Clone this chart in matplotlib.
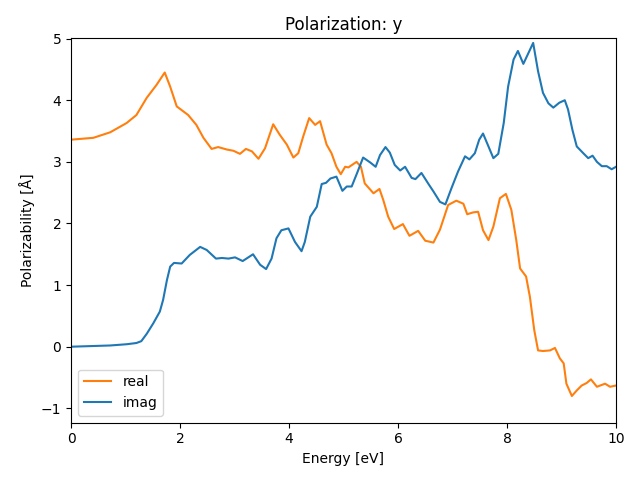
import matplotlib
matplotlib.use("Agg")
import matplotlib.pyplot as plt

energy_real = [0.0, 0.41, 0.72, 1.02, 1.2, 1.39, 1.57, 1.72, 1.82, 1.94, 2.06, 2.15, 2.3, 2.43,
               2.58, 2.70, 2.86, 2.98, 3.10, 3.21, 3.32, 3.44, 3.56, 3.71, 3.83, 3.96, 4.08,
               4.17, 4.26, 4.37, 4.48, 4.57, 4.69, 4.78, 4.87, 4.95, 5.03, 5.09, 5.24, 5.32,
               5.39, 5.55, 5.66, 5.73, 5.82, 5.93, 6.09, 6.21, 6.37, 6.50, 6.65, 6.77, 6.92,
               7.07, 7.20, 7.27, 7.38, 7.47, 7.56, 7.66, 7.75, 7.87, 7.98, 8.08, 8.17, 8.24,
               8.35, 8.42, 8.50, 8.57, 8.66, 8.79, 8.88, 8.97, 9.04, 9.09, 9.19, 9.28, 9.37,
               9.46, 9.54, 9.65, 9.80, 9.89, 10.0]
real = [3.36, 3.39, 3.48, 3.63, 3.76, 4.04, 4.25, 4.45, 4.22, 3.90, 3.82, 3.76, 3.60, 3.39,
        3.21, 3.24, 3.20, 3.18, 3.13, 3.21, 3.17, 3.05, 3.22, 3.61, 3.44, 3.28, 3.07,
        3.14, 3.41, 3.71, 3.60, 3.66, 3.28, 3.14, 2.92, 2.80, 2.92, 2.91, 3.00, 2.92,
        2.65, 2.49, 2.56, 2.38, 2.11, 1.91, 1.99, 1.80, 1.88, 1.72, 1.69, 1.90, 2.30,
        2.37, 2.32, 2.15, 2.18, 2.19, 1.89, 1.73, 1.95, 2.41, 2.48, 2.22, 1.73, 1.27,
        1.14, 0.81, 0.27, -0.06, -0.07, -0.06, -0.02, -0.19, -0.27, -0.60, -0.80, -0.71, -0.63,
        -0.59, -0.53, -0.65, -0.60, -0.65, -0.63]

energy_imag = [0.0, 0.72, 1.02, 1.2, 1.29, 1.39, 1.51, 1.63, 1.69, 1.76, 1.82, 1.89, 2.03,
               2.18, 2.37, 2.49, 2.66, 2.77, 2.89, 3.01, 3.15, 3.34, 3.47, 3.58, 3.68, 3.77,
               3.86, 3.99, 4.11, 4.23, 4.29, 4.39, 4.51, 4.60, 4.68, 4.76, 4.87, 4.98, 5.06,
               5.15, 5.25, 5.36, 5.49, 5.59, 5.67, 5.77, 5.85, 5.94, 6.04, 6.13, 6.25, 6.32,
               6.43, 6.56, 6.65, 6.77, 6.87, 6.98, 7.10, 7.23, 7.31, 7.41, 7.49, 7.56, 7.66,
               7.75, 7.84, 7.94, 8.02, 8.12, 8.20, 8.30, 8.39, 8.48, 8.57, 8.66, 8.76, 8.85,
               8.96, 9.06, 9.12, 9.20, 9.28, 9.40, 9.49, 9.57, 9.65, 9.74, 9.83, 9.92, 10.0]
imag = [0.00, 0.02, 0.04, 0.06, 0.09, 0.21, 0.38, 0.57, 0.76, 1.08, 1.30, 1.36, 1.35,
        1.49, 1.62, 1.57, 1.43, 1.44, 1.43, 1.45, 1.39, 1.50, 1.33, 1.26, 1.43, 1.76,
        1.89, 1.92, 1.70, 1.55, 1.70, 2.11, 2.27, 2.64, 2.66, 2.73, 2.76, 2.53, 2.60,
        2.60, 2.82, 3.07, 2.99, 2.92, 3.11, 3.24, 3.15, 2.95, 2.86, 2.92, 2.74, 2.72,
        2.82, 2.64, 2.52, 2.35, 2.31, 2.57, 2.84, 3.09, 3.04, 3.14, 3.36, 3.46, 3.25,
        3.06, 3.13, 3.63, 4.22, 4.66, 4.80, 4.59, 4.76, 4.93, 4.47, 4.12, 3.95, 3.88,
        3.96, 4.00, 3.85, 3.52, 3.25, 3.14, 3.06, 3.10, 3.00, 2.93, 2.93, 2.88, 2.92]

fig, ax = plt.subplots(figsize=(6.4, 4.8), dpi=100)
ax.plot(energy_real, real, color="C1", label="real")
ax.plot(energy_imag, imag, color="C0", label="imag")
ax.set_xlim(0, 10)
ax.set_ylim(-1.23, 5.01)
ax.set_xlabel("Energy [eV]")
ax.set_ylabel("Polarizability [Å]")
ax.set_title("Polarization: y")
ax.legend(loc="lower left")
fig.subplots_adjust(left=71 / 640, right=616 / 640, top=1 - 38 / 480, bottom=1 - 422.5 / 480)
fig.savefig("out.png")
